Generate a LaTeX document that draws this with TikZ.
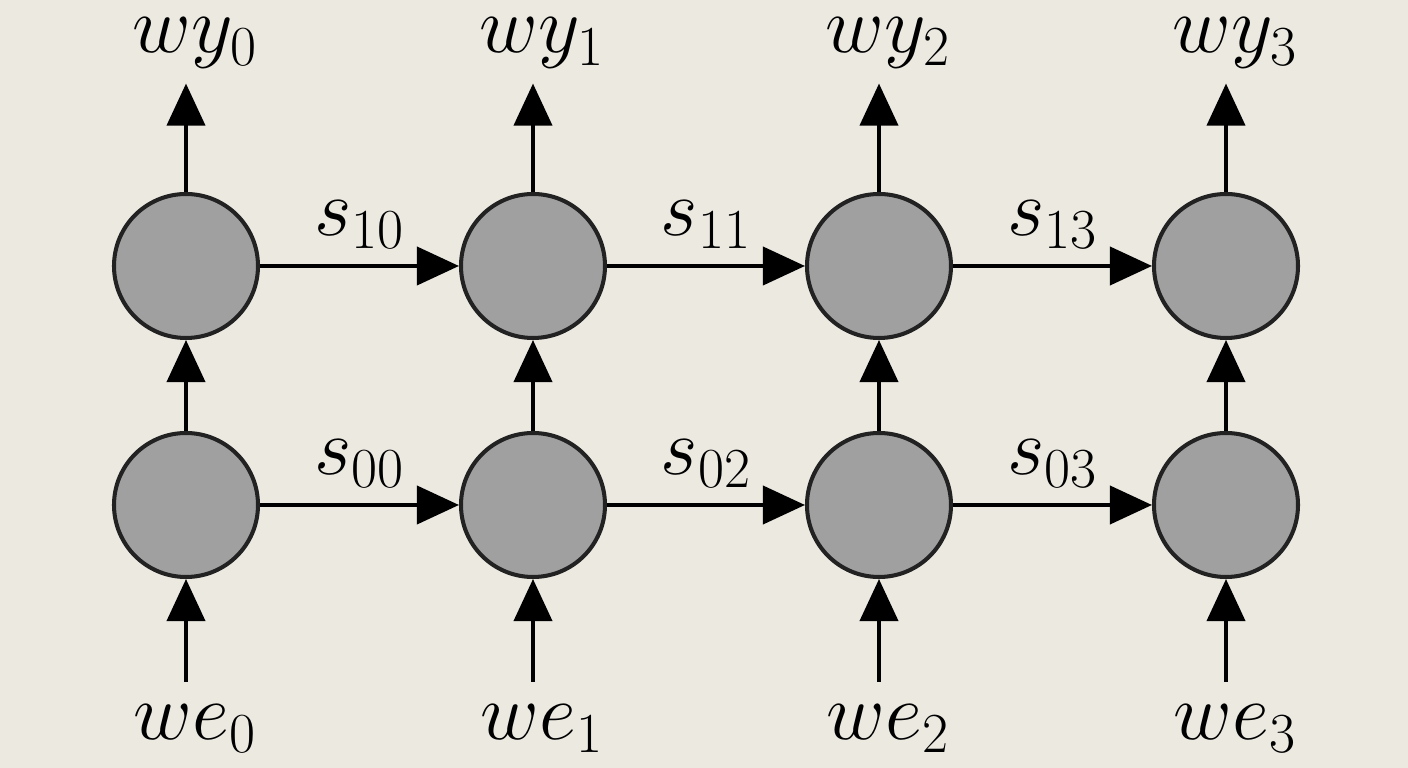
\RequirePackage{fix-cm}
\documentclass[tikz,border=0pt]{standalone}
\usetikzlibrary{arrows.meta}
\definecolor{paper}{RGB}{236,233,225}
\definecolor{cellfill}{RGB}{160,160,160}
\definecolor{cellline}{RGB}{34,34,34}
\tikzset{
    cell/.style={circle, draw=cellline, fill=cellfill, line width=2.3pt, minimum size=2.88cm, inner sep=0pt},
    lab/.style={font=\fontsize{46}{50}\selectfont, inner sep=2pt},
    flow/.style={-{Triangle[length=0.84cm,width=0.76cm]}, line width=2.2pt},
}
\begin{document}
\begin{tikzpicture}

\fill[paper] (0,0) rectangle (28.16,15.36);
\useasboundingbox (0,0) rectangle (28.16,15.36);

\foreach \i/\x in {0/3.72,1/10.66,2/17.58,3/24.52} {
    \node[cell] (t\i) at (\x,10.04) {};
    \node[cell] (b\i) at (\x,5.26) {};
    \node[lab, anchor=base] (wy\i) at (\x+0.18,14.3) {$wy_\i$};
    \node[lab, anchor=base] (we\i) at (\x+0.18,0.56) {$we_\i$};
}

\foreach \i in {0,1,2,3} {
    \draw[flow, shorten >=0.22cm] (t\i.north) -- (t\i.north |- wy\i.south);
    \draw[flow] (b\i) -- (t\i);
    \draw[flow, shorten <=0.39cm] (b\i.south |- we\i.north) -- (b\i.south);
}

\foreach \i/\j/\s in {0/1/10,1/2/11,2/3/13}
    \draw[flow] (t\i) -- node[lab, above=0.25cm] {$s_{\s}$} (t\j);

\foreach \i/\j/\s in {0/1/00,1/2/02,2/3/03}
    \draw[flow] (b\i) -- node[lab, above=0.25cm] {$s_{\s}$} (b\j);

\end{tikzpicture}
\end{document}
